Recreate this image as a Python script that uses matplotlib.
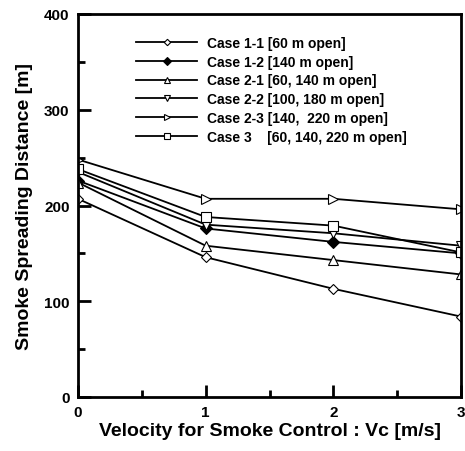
import matplotlib.pyplot as plt
from matplotlib.ticker import MultipleLocator

plt.rcParams["font.family"] = ["Liberation Sans", "DejaVu Sans"]
plt.rcParams["font.weight"] = "bold"

# ---------- DATA ----------
vc = [0, 1, 2, 3]
case_1_1 = [207, 146, 113, 84]
case_1_2 = [226, 176, 162, 150]
case_2_1 = [224, 158, 143, 128]
case_2_2 = [235, 180, 171, 158]
case_2_3 = [248, 207, 207, 196]
case_3 = [238, 188, 179, 151]

labels = [
    "Case 1-1 [60 m open]",
    "Case 1-2 [140 m open]",
    "Case 2-1 [60, 140 m open]",
    "Case 2-2 [100, 180 m open]",
    "Case 2-3 [140,  220 m open]",
    "Case 3    [60, 140, 220 m open]",
]
series = [case_1_1, case_1_2, case_2_1, case_2_2, case_2_3, case_3]
markers = ["D", "D", "^", "v", ">", "s"]
faces = ["white", "black", "white", "white", "white", "white"]
sizes = [5, 6, 6.5, 6.5, 6.5, 6.5]

# ---------- PLOT ----------
fig = plt.figure(figsize=(4.65, 4.52), dpi=100)
ax = fig.add_axes([78 / 465, 1 - 398 / 452, 383 / 465, 383 / 452])

for vals, lab, m, fc, ms in zip(series, labels, markers, faces, sizes):
    ax.plot(vc, vals, color="black", lw=1.3, marker=m, ms=ms,
            mfc=fc, mec="black", mew=0.8, label=lab)

ax.set_xlim(0, 3)
ax.set_ylim(0, 400)
ax.xaxis.set_major_locator(MultipleLocator(1))
ax.xaxis.set_minor_locator(MultipleLocator(0.5))
ax.yaxis.set_major_locator(MultipleLocator(100))
ax.yaxis.set_minor_locator(MultipleLocator(50))
ax.tick_params(which="both", direction="in", width=2, labelsize=11)
ax.tick_params(which="major", length=9, pad=6)
ax.tick_params(which="minor", length=5)
for sp in ax.spines.values():
    sp.set_linewidth(2)

ax.set_xlabel("Velocity for Smoke Control : Vc [m/s]", fontsize=14,
              fontweight="bold", labelpad=2)
ax.set_ylabel("Smoke Spreading Distance [m]", fontsize=14,
              fontweight="bold", labelpad=8)

leg = ax.legend(loc="upper left", bbox_to_anchor=(0.136, 0.958), frameon=False,
                fontsize=10, handlelength=4.45, labelspacing=0.35,
                handletextpad=0.7, borderaxespad=0, markerscale=0.65)
for t in leg.get_texts():
    t.set_fontweight("bold")

fig.savefig("out.png", dpi=100)
